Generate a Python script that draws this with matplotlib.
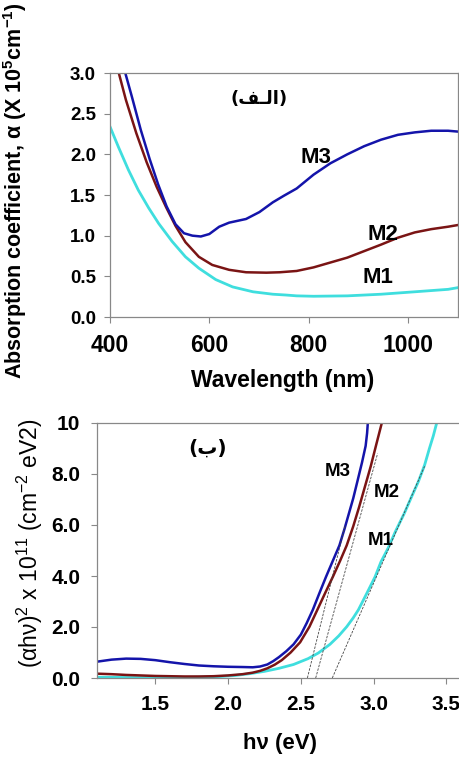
import matplotlib
matplotlib.use("Agg")
import matplotlib.pyplot as plt

plt.rcParams['font.family'] = ['Liberation Sans', 'DejaVu Sans']
plt.rcParams['mathtext.fontset'] = 'custom'
plt.rcParams['mathtext.rm'] = 'Liberation Sans'
plt.rcParams['mathtext.bf'] = 'Liberation Sans:bold'

# --- panel (a): absorption coefficient vs wavelength ---
wl_m1 = [400, 417, 437, 457, 478, 498, 525, 552, 579, 613, 647, 688, 728, 755,
         776, 810, 878, 946, 1014, 1081, 1100]
a_m1 = [2.34, 2.09, 1.81, 1.56, 1.34, 1.15, 0.93, 0.74, 0.60, 0.46, 0.37, 0.31, 0.28, 0.27,
        0.26, 0.255, 0.26, 0.28, 0.31, 0.34, 0.36]

wl_m2 = [416, 432, 453, 474, 494, 513, 532, 552, 579, 606, 640, 674, 715, 742,
         776, 810, 844, 878, 912, 946, 980, 1014, 1047, 1081, 1100]
a_m2 = [3.04, 2.67, 2.26, 1.90, 1.60, 1.35, 1.12, 0.92, 0.74, 0.64, 0.58, 0.55, 0.545, 0.55,
        0.566, 0.61, 0.67, 0.73, 0.81, 0.89, 0.975, 1.04, 1.08, 1.11, 1.13]

wl_m3 = [429, 444, 462, 480, 497, 514, 532, 549, 566, 583, 600, 620, 640, 674, 701, 728,
         750, 776, 810, 844, 878, 912, 946, 980, 1014, 1047, 1081, 1100]
a_m3 = [3.04, 2.71, 2.30, 1.94, 1.63, 1.36, 1.14, 1.03, 1.00, 0.99, 1.02, 1.11, 1.16, 1.205,
        1.29, 1.41, 1.49, 1.58, 1.75, 1.89, 2.00, 2.10, 2.18, 2.24, 2.27, 2.29, 2.29, 2.28]

# --- panel (b): (alpha h nu)^2 vs photon energy ---
e_m1 = [1.10, 1.30, 1.50, 1.70, 1.85, 1.95, 2.05, 2.15, 2.25, 2.35, 2.45, 2.55, 2.62, 2.70,
        2.76, 2.815, 2.86, 2.895, 2.953, 3.01, 3.05, 3.10, 3.15, 3.21, 3.26, 3.307, 3.35,
        3.383, 3.41, 3.433]
y_m1 = [0.03, 0.02, 0.01, 0.02, 0.04, 0.06, 0.10, 0.17, 0.26, 0.38, 0.53, 0.76, 0.98, 1.32,
        1.65, 2.01, 2.36, 2.67, 3.32, 3.97, 4.55, 5.1, 5.75, 6.45, 7.1, 7.7, 8.35,
        9.0, 9.5, 10.0]

e_m2 = [1.10, 1.20, 1.30, 1.40, 1.50, 1.60, 1.70, 1.80, 1.90, 2.00, 2.10, 2.17, 2.22, 2.27,
        2.32, 2.369, 2.43, 2.495, 2.559, 2.613, 2.666, 2.72, 2.77, 2.815, 2.86, 2.90, 2.94,
        2.98, 3.02, 3.056]
y_m2 = [0.17, 0.15, 0.12, 0.10, 0.08, 0.07, 0.06, 0.06, 0.07, 0.10, 0.15, 0.21, 0.28, 0.38,
        0.52, 0.70, 1.0, 1.40, 2.01, 2.67, 3.32, 3.97, 4.6, 5.2, 5.95, 6.7, 7.5,
        8.3, 9.2, 10.0]

e_m3 = [1.10, 1.20, 1.30, 1.40, 1.50, 1.60, 1.70, 1.80, 1.90, 2.00, 2.10, 2.17, 2.22, 2.27,
        2.31, 2.35, 2.40, 2.45, 2.50, 2.54, 2.582, 2.627, 2.673, 2.72, 2.765, 2.80, 2.83,
        2.86, 2.888, 2.92, 2.945, 2.955, 2.96]
y_m3 = [0.64, 0.72, 0.76, 0.75, 0.70, 0.62, 0.55, 0.49, 0.46, 0.44, 0.43, 0.42, 0.45, 0.53,
        0.66, 0.82, 1.05, 1.32, 1.70, 2.15, 2.67, 3.32, 3.97, 4.6, 5.2, 5.85, 6.45,
        7.05, 7.7, 8.45, 9.1, 9.6, 10.0]

# band gap tangents: x intercept, slope, top y
eg = [2.716, 2.602, 2.545]
slopes = [13.1, 20.7, 23.1]
tan_top = [8.3, 8.8, 6.0]

c_m1 = '#3fdede'
c_m2 = '#7a1414'
c_m3 = '#1414aa'
spine_c = '#888888'

fig = plt.figure(figsize=(4.59, 7.58), dpi=100)

# top panel
ax1 = fig.add_axes([110 / 459, 1 - 317 / 758, 347.5 / 459, 244 / 758])
ax1.plot(wl_m1, a_m1, color=c_m1, lw=2)
ax1.plot(wl_m2, a_m2, color=c_m2, lw=1.8)
ax1.plot(wl_m3, a_m3, color=c_m3, lw=1.8)
ax1.set_xlim(400, 1100)
ax1.set_ylim(0, 3.0)
ax1.set_xticks([400, 600, 800, 1000])
ax1.set_yticks([0, 0.5, 1.0, 1.5, 2.0, 2.5, 3.0])
ax1.set_yticklabels(['0.0', '0.5', '1.0', '1.5', '2.0', '2.5', '3.0'])
ax1.tick_params(axis='x', labelsize=16.5, pad=8, length=4, color=spine_c, width=0.8)
ax1.tick_params(axis='y', labelsize=13.5, pad=6, length=4, color=spine_c, width=0.8)
for lab in ax1.get_xticklabels() + ax1.get_yticklabels():
    lab.set_fontweight('bold')
for s in ax1.spines.values():
    s.set_color(spine_c)
    s.set_linewidth(0.9)
ax1.text(815, 1.96, 'M3', fontsize=16, fontweight='bold', ha='center', va='center')
ax1.text(950, 1.02, 'M2', fontsize=16, fontweight='bold', ha='center', va='center')
ax1.text(940, 0.49, 'M1', fontsize=16, fontweight='bold', ha='center', va='center')
ax1.text(700, 2.68, '(\uFED2\u0640\uFEDF\uFE8D)', fontsize=13, fontweight='bold',
         family='DejaVu Sans', ha='center', va='center')

fig.text(283 / 459, 1 - 380 / 758, 'Wavelength (nm)', fontsize=16.5, fontweight='bold',
         ha='center', va='center')
fig.text(15 / 459, 1 - 191 / 758,
         'Absorption coefficient, \u03b1 (X 10$^{\\mathbf{5}}$cm$^{\\mathbf{-1}}$)',
         fontsize=15.5, fontweight='bold', rotation=90, ha='center', va='center')

# bottom panel
ax2 = fig.add_axes([97 / 459, 1 - 678 / 758, 364 / 459, 255 / 758])
ax2.plot(e_m1, y_m1, color=c_m1, lw=2)
ax2.plot(e_m2, y_m2, color=c_m2, lw=1.8)
ax2.plot(e_m3, y_m3, color=c_m3, lw=1.8)
for x0, k, yt in zip(eg, slopes, tan_top):
    ax2.plot([x0, x0 + yt / k], [0, yt], color='#444444', lw=0.6, ls=(0, (3, 1.5)))
ax2.set_xlim(1.1, 3.6)
ax2.set_ylim(0, 10)
ax2.set_xticks([1.5, 2.0, 2.5, 3.0, 3.5])
ax2.set_xticklabels(['1.5', '2.0', '2.5', '3.0', '3.5'])
ax2.set_yticks([0, 2, 4, 6, 8, 10])
ax2.set_yticklabels(['0.0', '2.0', '4.0', '6.0', '8.0', '10'])
ax2.tick_params(axis='x', labelsize=15, pad=8, length=4, color=spine_c, width=0.8)
ax2.tick_params(axis='y', labelsize=15, pad=8, length=4, color=spine_c, width=0.8)
for lab in ax2.get_xticklabels() + ax2.get_yticklabels():
    lab.set_fontweight('bold')
for s in ax2.spines.values():
    s.set_color(spine_c)
    s.set_linewidth(0.9)
ax2.text(2.755, 8.08, 'M3', fontsize=13.5, fontweight='bold', ha='center', va='center')
ax2.text(3.09, 7.29, 'M2', fontsize=13.5, fontweight='bold', ha='center', va='center')
ax2.text(3.05, 5.41, 'M1', fontsize=13.5, fontweight='bold', ha='center', va='center')
ax2.text(1.859, 9.02, '(\uFE8F)', fontsize=14.5, fontweight='bold',
         family='DejaVu Sans', ha='center', va='center')

fig.text(280 / 459, 1 - 744 / 758, 'h\u03bd (eV)', fontsize=16, fontweight='bold',
         ha='center', va='center')
fig.text(30 / 459, 1 - 543 / 758,
         '(\u03b1h\u03bd)$^{\\mathrm{2}}$ x 10$^{\\mathrm{11}}$ (cm$^{\\mathrm{-2}}$ eV2)',
         fontsize=16.5, rotation=90, ha='center', va='center')

fig.savefig('out.png', dpi=100)
